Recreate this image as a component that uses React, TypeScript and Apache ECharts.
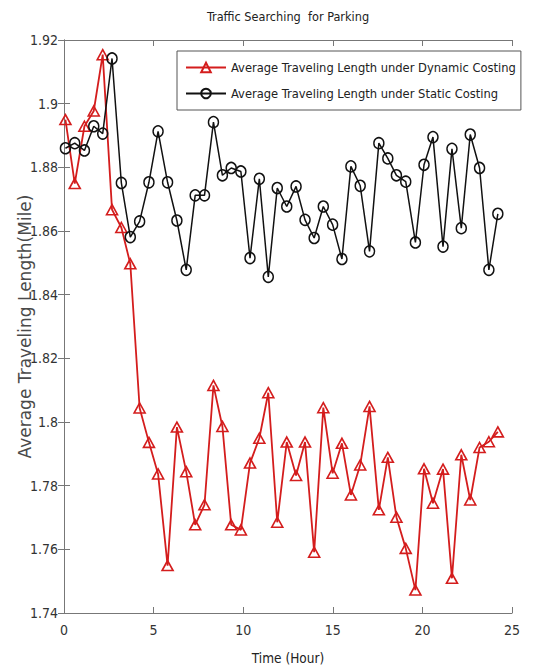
import React, { useEffect, useRef } from 'react';
import * as echarts from 'echarts';

const hours = [0.08, 0.6, 1.14, 1.66, 2.16, 2.68, 3.2, 3.7, 4.22, 4.74, 5.25, 5.78, 6.3, 6.82, 7.32, 7.84, 8.34, 8.84, 9.33, 9.87, 10.38, 10.9, 11.4, 11.9, 12.43, 12.95, 13.45, 13.96, 14.47, 14.99, 15.51, 16.01, 16.53, 17.05, 17.57, 18.07, 18.55, 19.07, 19.61, 20.09, 20.59, 21.15, 21.65, 22.17, 22.67, 23.19, 23.71, 24.21];

const dynamicCosting = [1.895, 1.8749, 1.8929, 1.8977, 1.9154, 1.8667, 1.8611, 1.8497, 1.8044, 1.7936, 1.7837, 1.7549, 1.7984, 1.7844, 1.7677, 1.774, 1.8115, 1.7986, 1.7677, 1.7661, 1.7871, 1.7949, 1.8092, 1.7685, 1.7937, 1.7832, 1.7937, 1.7591, 1.8045, 1.7839, 1.7933, 1.7771, 1.7865, 1.8049, 1.7724, 1.7889, 1.7701, 1.7603, 1.7472, 1.7853, 1.7745, 1.7852, 1.7509, 1.7897, 1.7755, 1.792, 1.7938, 1.7969];

const staticCosting = [1.886, 1.8876, 1.8853, 1.8929, 1.8906, 1.9142, 1.8751, 1.8581, 1.863, 1.8753, 1.8913, 1.8753, 1.8633, 1.8478, 1.8712, 1.8712, 1.8942, 1.8775, 1.8798, 1.8787, 1.8515, 1.8764, 1.8456, 1.8735, 1.8677, 1.874, 1.8635, 1.8578, 1.8677, 1.862, 1.8512, 1.8803, 1.8742, 1.8536, 1.8876, 1.8828, 1.8775, 1.8755, 1.8564, 1.8808, 1.8895, 1.8551, 1.8858, 1.8609, 1.8903, 1.8798, 1.8478, 1.8654];

const seriesNames = [
  'Average Traveling Length under Dynamic Costing',
  'Average Traveling Length under Static Costing',
];
const titleText = 'Traffic Searching  for Parking';
const xName = 'Time (Hour)';
const yName = 'Average Traveling Length(Mile)';
const xMin = 0, xMax = 25, xStep = 5;
const yMin = 1.74, yMax = 1.92, yStep = 0.02;

const NARROW = "'Liberation Sans Narrow', 'DejaVu Sans Condensed', 'Liberation Sans', Arial, sans-serif";
const COND = "'DejaVu Sans Condensed', 'Liberation Sans Narrow', 'DejaVu Sans', sans-serif";
const WIDE = "'DejaVu Sans', 'Liberation Sans', sans-serif";
const RED = '#d41d1d';
const BLACK = '#111111';
const FRAME = '#777777';

export default function App() {
  const ref = useRef<HTMLDivElement>(null);
  useEffect(() => {
    document.body.style.margin = '0';
    const chart = echarts.init(ref.current!, null, { renderer: 'svg' });
    const frameAxis = {
      axisLine: { show: true, lineStyle: { color: FRAME, width: 1 } },
      axisTick: { show: true, inside: true, length: 6, lineStyle: { color: FRAME } },
      splitLine: { show: false },
    };
    chart.setOption({
      animation: false,
      backgroundColor: '#ffffff',
      title: {
        text: titleText,
        left: 288,
        textAlign: 'center',
        top: 10,
        padding: 0,
        textStyle: { fontFamily: NARROW, fontSize: 12.6, fontWeight: 'normal', color: '#222' },
      },
      grid: { left: 64, right: 26, top: 40, bottom: 58, containLabel: false, outerBoundsMode: 'none' },
      legend: {
        orient: 'vertical',
        left: 177,
        top: 51,
        itemWidth: 40,
        itemHeight: 12,
        itemGap: 13,
        padding: [10, 5, 10, 8],
        borderColor: '#555',
        borderWidth: 1,
        backgroundColor: '#fff',
        textStyle: { fontFamily: COND, fontSize: 12.8, color: '#222' },
        data: seriesNames,
      },
      xAxis: [
        {
          ...frameAxis,
          type: 'value',
          position: 'bottom',
          min: xMin,
          max: xMax,
          interval: xStep,
          name: xName,
          nameLocation: 'middle',
          nameGap: 38,
          nameMoveOverlap: false,
          nameTextStyle: { fontFamily: NARROW, fontSize: 13.5, color: '#222' },
          axisLabel: { fontFamily: NARROW, fontSize: 14, color: '#333', margin: 10 },
        },
        {
          ...frameAxis,
          type: 'value',
          position: 'top',
          min: xMin,
          max: xMax,
          interval: xStep,
          axisLabel: { show: false },
        },
      ],
      yAxis: [
        {
          ...frameAxis,
          type: 'value',
          position: 'left',
          min: yMin,
          max: yMax,
          interval: yStep,
          name: yName,
          nameLocation: 'middle',
          nameGap: 31,
          nameMoveOverlap: false,
          nameTextStyle: { fontFamily: WIDE, fontSize: 17, color: '#4a4a4a' },
          axisLabel: { fontFamily: NARROW, fontSize: 14, color: '#333', margin: 6 },
        },
        {
          ...frameAxis,
          type: 'value',
          position: 'right',
          min: yMin,
          max: yMax,
          interval: yStep,
          axisLabel: { show: false },
        },
      ],
      series: [
        {
          name: seriesNames[0],
          type: 'line',
          data: hours.map((h, i) => [h, dynamicCosting[i]]),
          symbol: 'triangle',
          symbolSize: [11, 10],
          showAllSymbol: true,
          itemStyle: { color: 'rgba(255,255,255,0)', borderColor: RED, borderWidth: 1.6 },
          lineStyle: { color: RED, width: 1.8 },
          z: 2,
        },
        {
          name: seriesNames[1],
          type: 'line',
          data: hours.map((h, i) => [h, staticCosting[i]]),
          symbol: 'circle',
          symbolSize: [10, 11],
          showAllSymbol: true,
          itemStyle: { color: 'rgba(255,255,255,0)', borderColor: BLACK, borderWidth: 1.5 },
          lineStyle: { color: BLACK, width: 1.5 },
          z: 3,
        },
      ],
    });
    return () => chart.dispose();
  }, []);
  return <div ref={ref} style={{ width: 538, height: 671 }} />;
}
